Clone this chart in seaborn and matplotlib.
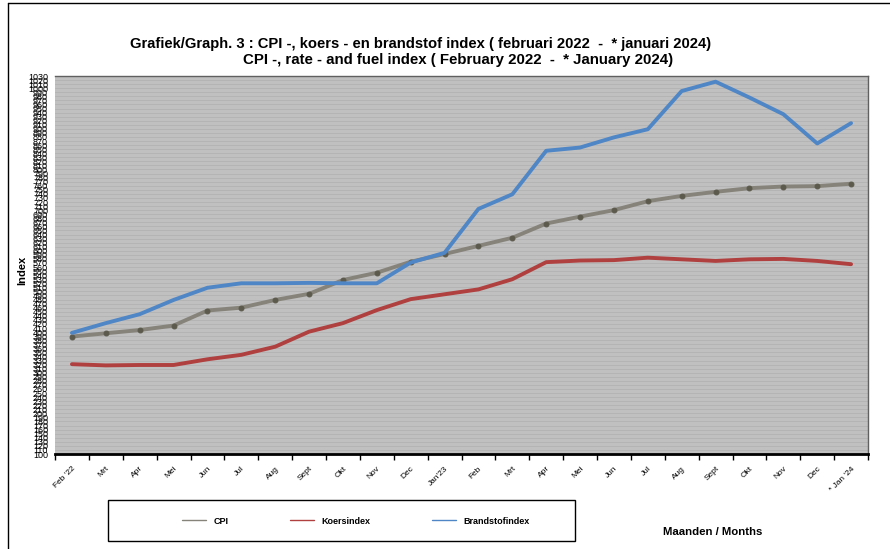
import numpy as np
import pandas as pd
import seaborn as sns
import matplotlib
matplotlib.use('Agg')
import matplotlib.pyplot as plt
from matplotlib.lines import Line2D
from matplotlib.patches import Rectangle

# ——————————————————————————————
# data
# ——————————————————————————————
months = ["Feb '22", "Mrt", "Apr", "Mei", "Jun", "Jul", "Aug", "Sept", "Okt", "Nov", "Dec",
          "Jan'23", "Feb", "Mrt", "Apr", "Mei", "Jun", "Jul", "Aug", "Sept", "Okt", "Nov",
          "Dec", "* Jan '24"]
cpi = [389, 397, 405, 416, 453, 460, 479, 494, 528, 546, 573, 592,
       612, 632, 667, 684, 700, 722, 735, 745, 754, 758, 759, 765]
koersindex = [321, 318, 319, 319, 333, 344, 364, 401, 422, 454, 481, 493,
              505, 530, 572, 576, 577, 583, 579, 575, 579, 580, 575, 567]
brandstofindex = [398, 422, 444, 479, 509, 520, 520, 521, 520, 520, 571, 595,
                  703, 739, 846, 854, 879, 899, 993, 1016, 977, 936, 864, 914]
y_ticks = list(range(100, 1031, 10))

df = pd.DataFrame({'pos': np.arange(len(months)), 'CPI': cpi,
                   'Koersindex': koersindex, 'Brandstofindex': brandstofindex})

sns.set_style('white')
plt.rcParams['font.family'] = ['Liberation Sans', 'DejaVu Sans']
plt.rcParams.update({'text.color': 'black', 'axes.labelcolor': 'black',
                     'xtick.color': 'black', 'ytick.color': 'black'})

fig = plt.figure(figsize=(8.9, 5.49), dpi=100)
ax = fig.add_axes([55 / 890, 1 - 454 / 549, 813 / 890, 378 / 549])
ax.set_facecolor('#c0c0c0')

c_cpi, c_koers, c_brand = '#86837a', '#b0403f', '#4f86c6'

sns.lineplot(data=df, x='pos', y='Koersindex', color=c_koers, linewidth=2.8, ax=ax)
sns.lineplot(data=df, x='pos', y='CPI', color=c_cpi, linewidth=2.8, marker='o',
             markersize=3.5, markerfacecolor='#5c5a4c', markeredgecolor='#5c5a4c', ax=ax)
sns.lineplot(data=df, x='pos', y='Brandstofindex', color=c_brand, linewidth=2.8, ax=ax)

ax.set_xlim(-0.5, len(months) - 0.5)
ax.set_ylim(100, 1030)
ax.set_yticks(y_ticks)
ax.set_yticklabels([str(v) for v in y_ticks], fontsize=6.5)
ax.tick_params(axis='y', length=3, color='#808080', pad=2)
ax.grid(axis='y', color='#b2b2b2', linewidth=0.6)
ax.set_axisbelow(True)

ax.set_xticks(np.arange(len(months)))
ax.set_xticklabels(months, fontsize=6, rotation=45, ha='right', rotation_mode='anchor')
ax.set_xticks(np.arange(len(months) + 1) - 0.5, minor=True)
ax.tick_params(axis='x', which='major', length=0, pad=8)
ax.tick_params(axis='x', which='minor', length=4, width=1, color='black', bottom=True)

ax.set_xlabel('')
ax.set_ylabel('Index', fontsize=8, fontweight='bold')
ax.yaxis.set_label_coords(-0.034, 0.487)

for s in ['top', 'right']:
    ax.spines[s].set_color('#606060')
    ax.spines[s].set_linewidth(1)
ax.spines['left'].set_visible(False)
ax.spines['bottom'].set_color('black')
ax.spines['bottom'].set_linewidth(2)

# titles
fig.text(421 / 890, 1 - 44 / 549,
         'Grafiek/Graph. 3 : CPI -, koers - en brandstof index ( februari 2022  -  * januari 2024)',
         ha='center', va='center', fontsize=10.6, fontweight='bold')
fig.text(458 / 890, 1 - 60 / 549,
         'CPI -, rate - and fuel index ( February 2022  -  * January 2024)',
         ha='center', va='center', fontsize=10.8, fontweight='bold')

# legend in a separate box
fig.patches.append(Rectangle((108 / 890, 1 - 541 / 549), 467 / 890, 41 / 549,
                             transform=fig.transFigure, fill=False,
                             edgecolor='black', linewidth=1))
handles = [Line2D([], [], color=c_cpi, lw=1), Line2D([], [], color=c_koers, lw=1),
           Line2D([], [], color=c_brand, lw=1)]
fig.legend(handles, ['CPI', 'Koersindex', 'Brandstofindex'], ncol=3, frameon=False,
           loc='center', bbox_to_anchor=(356 / 890, 1 - 521 / 549),
           prop={'size': 6.5, 'weight': 'bold'}, handlelength=2.7,
           columnspacing=6.8, handletextpad=0.8)

fig.text(713 / 890, 1 - 532 / 549, 'Maanden / Months', ha='center', va='center',
         fontsize=8.2, fontweight='bold')

# outer frame lines
fig.add_artist(Line2D([8 / 890, 8 / 890], [0, 1 - 3 / 549], color='black', lw=1,
                      transform=fig.transFigure))
fig.add_artist(Line2D([8 / 890, 1], [1 - 3 / 549, 1 - 3 / 549], color='black', lw=1,
                      transform=fig.transFigure))

fig.savefig('out.png', dpi=100)
